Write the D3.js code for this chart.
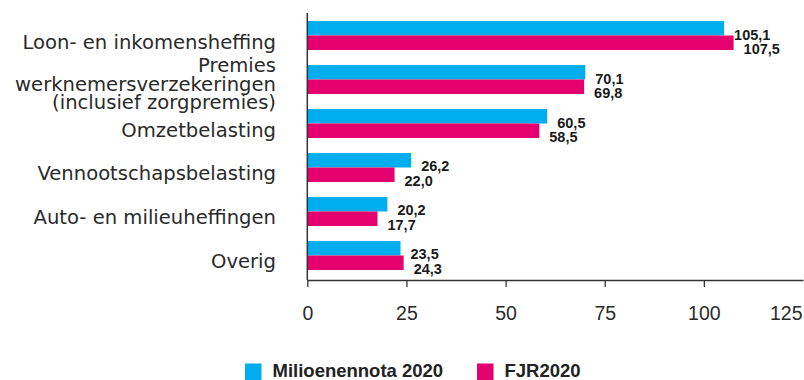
<!DOCTYPE html>
<html>
<head>
<meta charset="utf-8">
<script src="https://cdn.jsdelivr.net/npm/d3@7"></script>
<style>
  html, body { margin: 0; padding: 0; background: #fff; }
  svg { display: block; }
</style>
</head>
<body>
<svg id="chart" width="804" height="380"></svg>
<script>
const categories = [
  "Loon- en inkomensheffing",
  "Premies|werknemersverzekeringen|(inclusief zorgpremies)",
  "Omzetbelasting",
  "Vennootschapsbelasting",
  "Auto- en milieuheffingen",
  "Overig"
];
const seriesNames = ["Milioenennota 2020", "FJR2020"];
const miljoenennota = [105.1, 70.1, 60.5, 26.2, 20.2, 23.5];
const fjr = [107.5, 69.8, 58.5, 22.0, 17.7, 24.3];
const tickValues = [0, 25, 50, 75, 100, 125];
const colors = ["#00aeef", "#e4006f"];

const seriesValues = [miljoenennota, fjr];
const svg = d3.select("#chart");

const x = d3.scaleLinear().domain([0, 125]).range([307.3, 803]);
const y = d3.scaleBand().domain(categories).range([13, 278]).paddingInner(0.341).paddingOuter(0.182);
const ySub = d3.scaleBand().domain(seriesNames).range([0, y.bandwidth()]);
const color = d3.scaleOrdinal().domain(seriesNames).range(colors);
const nlLocale = d3.formatLocale({decimal: ",", thousands: ".", grouping: [3], currency: ["€", ""]});
const fmt = nlLocale.format(".1f");
const axisBottomY = 280;

const rows = [];
categories.forEach((c, i) => {
  seriesNames.forEach((s, j) => rows.push({cat: c, series: s, value: seriesValues[j][i]}));
});

// bars
svg.append("g").selectAll("rect").data(rows).join("rect")
  .attr("x", x(0))
  .attr("y", d => y(d.cat) + ySub(d.series))
  .attr("width", d => x(d.value) - x(0))
  .attr("height", ySub.bandwidth())
  .attr("fill", d => color(d.series));

// value labels
svg.append("g").selectAll("text").data(rows).join("text")
  .attr("x", d => x(d.value) + 10)
  .attr("y", d => y(d.cat) + ySub(d.series) + ySub.bandwidth() + 4)
  .attr("font-family", "'Liberation Sans', Arial, sans-serif")
  .attr("font-weight", "bold")
  .attr("font-size", "14.5px")
  .attr("fill", "#1a1a1a")
  .text(d => fmt(d.value));

// category labels
const catG = svg.append("g");
categories.forEach(c => {
  const lines = c.split("|");
  const center = y(c) + y.bandwidth() / 2;
  const lh = 18.6;
  const base = lines.length === 1 ? center + 13 : center + 11 - lh * (lines.length - 1) / 2;
  const t = catG.append("text")
    .attr("text-anchor", "end")
    .attr("font-family", "'DejaVu Sans', sans-serif")
    .attr("font-size", "19.6px")
    .attr("fill", "#2a2a2a");
  lines.forEach((ln, k) => {
    t.append("tspan").attr("x", 276).attr("y", base + k * lh).text(ln);
  });
});

// y axis line
svg.append("line")
  .attr("x1", x(0)).attr("x2", x(0))
  .attr("y1", 13).attr("y2", axisBottomY)
  .attr("stroke", "#333").attr("stroke-width", 1.5);

// x axis
const xAxis = d3.axisBottom(x).tickValues(tickValues).tickSize(7).tickSizeOuter(0).tickPadding(19)
  .tickFormat(d3.format("d"));
const gx = svg.append("g").attr("transform", `translate(0,${axisBottomY})`).call(xAxis);
gx.select(".domain").attr("stroke", "#333").attr("stroke-width", 1.5);
gx.selectAll(".tick line").attr("stroke", "#333").attr("stroke-width", 1.3);
gx.selectAll(".tick text")
  .attr("font-family", "'Liberation Sans', Arial, sans-serif")
  .attr("font-size", "19.5px")
  .attr("fill", "#2a2a2a");
gx.selectAll(".tick").filter(d => d === 125).select("text").attr("text-anchor", "end").attr("x", -1);
gx.selectAll(".tick").filter(d => d === 125).select("line").remove();

// legend
const legendX = [245, 477];
const lg = svg.append("g");
seriesNames.forEach((s, i) => {
  lg.append("rect").attr("x", legendX[i]).attr("y", 363.5).attr("width", 16.5).attr("height", 16.5).attr("fill", color(s));
  lg.append("text").attr("x", legendX[i] + 27.5).attr("y", 376.5)
    .attr("font-family", "'Liberation Sans', Arial, sans-serif")
    .attr("font-weight", "bold").attr("font-size", "18.5px")
    .attr("fill", "#222").text(s);
});
</script>
</body>
</html>
